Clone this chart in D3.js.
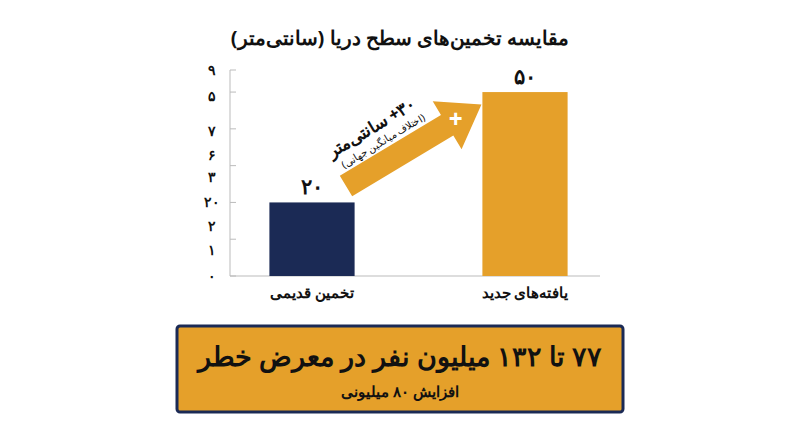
<!DOCTYPE html><html><head><meta charset="utf-8"><script src="https://cdn.jsdelivr.net/npm/d3@7"></script>
<style>body{margin:0;background:#fff}text{font-family:"Noto Sans",sans-serif}</style></head><body><svg width="800" height="447"></svg>
<script>
const categories=["تخمین قدیمی","یافته‌های جدید"];
const values=[20,50];
const valueLabels=["۲۰","۵۰"];
const tickLabels=["۹","۵","۷","۶","۳","۲۰","۲","۱","۰"];
const tickLabelValues=[56,49,39.5,33,27,20,13.7,7,0];
const gridTicks=[0,10,20,30,40,50,56];
const colors=["#1B2A55","#E5A02A"];
const svg=d3.select("svg");
const y=d3.scaleLinear().domain([0,56]).range([276,70]);
const x=d3.scaleBand().domain(categories).range([205.5,631.5]).paddingInner(0.6).paddingOuter(0.3);
svg.append("text").attr("x",400).attr("y",45).attr("text-anchor","middle").attr("direction","rtl").attr("font-size",20).attr("font-weight",700).attr("fill","#111").text("مقایسه تخمین‌های سطح دریا (سانتی‌متر)");
svg.append("line").attr("x1",230).attr("x2",230).attr("y1",y(56)).attr("y2",y(0)).attr("stroke","#bbb");
svg.append("line").attr("x1",230).attr("x2",600).attr("y1",y(0)).attr("y2",y(0)).attr("stroke","#bbb");
svg.selectAll(".tk").data(gridTicks).join("line").attr("x1",230).attr("x2",236).attr("y1",d=>y(d)).attr("y2",d=>y(d)).attr("stroke","#bbb");
svg.selectAll(".tl").data(tickLabels).join("text").attr("x",212).attr("y",(d,i)=>y(tickLabelValues[i])+5).attr("text-anchor","middle").attr("font-size",14).attr("font-weight",700).attr("fill","#111").text(d=>d);
svg.selectAll(".bar").data(values).join("rect").attr("x",(d,i)=>x(categories[i])).attr("width",x.bandwidth()).attr("y",d=>y(d)).attr("height",d=>y(0)-y(d)).attr("fill",(d,i)=>colors[i]);
svg.selectAll(".vl").data(values).join("text").attr("x",(d,i)=>x(categories[i])+x.bandwidth()/2).attr("y",d=>y(d)-8).attr("text-anchor","middle").attr("font-size",21).attr("font-weight",800).attr("fill","#111").text((d,i)=>valueLabels[i]);
svg.selectAll(".cl").data(categories).join("text").attr("x",d=>x(d)+x.bandwidth()/2).attr("y",298).attr("text-anchor","middle").attr("direction","rtl").attr("font-size",15).attr("font-weight",600).attr("fill","#111").text(d=>d);
// arrow
const g=svg.append("g").attr("transform","translate(346,186) rotate(-31)");
g.append("path").attr("d","M0,-12 L118,-12 L118,-28 L158,0 L118,28 L118,12 L0,12 Z").attr("fill","#E5A02A");
g.append("g").attr("transform","translate(128,0) rotate(31)").append("text").attr("x",0).attr("y",8).attr("text-anchor","middle").attr("font-size",24).attr("font-weight",800).attr("fill","#fff").text("+");
g.append("text").attr("x",52).attr("y",-31).attr("text-anchor","middle").attr("direction","rtl").attr("font-size",17).attr("font-weight",800).attr("fill","#111").text("\u200E+۳۰ سانتی‌متر");
g.append("text").attr("x",55).attr("y",-16).attr("text-anchor","middle").attr("direction","rtl").attr("font-size",10).attr("fill","#111").text("(اختلاف میانگین جهانی)");
svg.append("rect").attr("x",177).attr("y",326).attr("width",446).attr("height",86).attr("rx",3).attr("fill","#E5A02A").attr("stroke","#1B2A55").attr("stroke-width",3);
svg.append("text").attr("x",400).attr("y",366).attr("text-anchor","middle").style("direction","rtl").style("unicode-bidi","plaintext").attr("font-size",27).attr("font-weight",800).attr("fill","#111").text("۷۷ تا ۱۳۲ میلیون نفر در معرض خطر");
svg.append("text").attr("x",400).attr("y",397).attr("text-anchor","middle").attr("direction","rtl").attr("font-size",15).attr("font-weight",700).attr("fill","#111").text("افزایش ۸۰ میلیونی");
</script></body></html>
